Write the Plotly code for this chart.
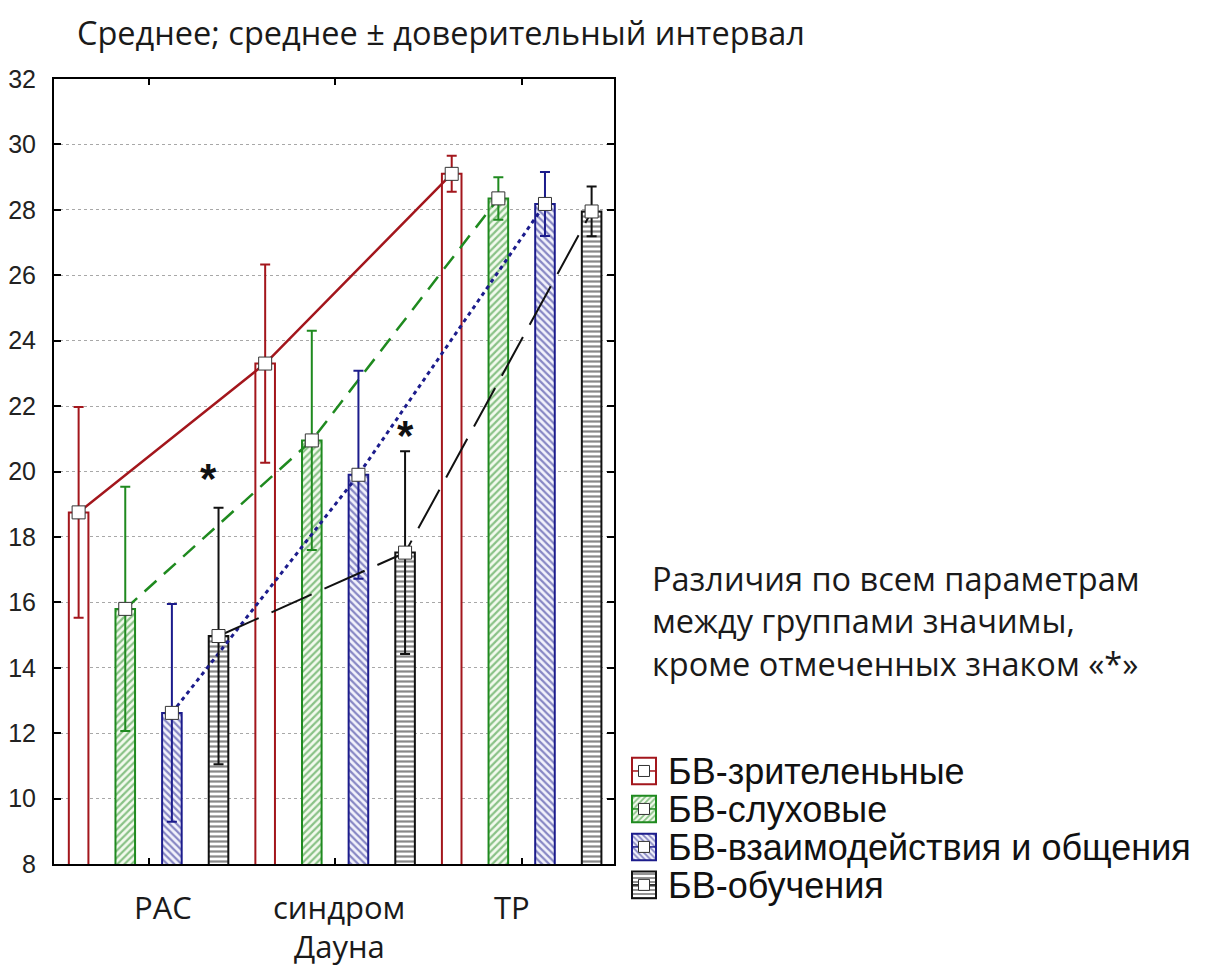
import plotly.graph_objects as go

# Groups and series
categories = ["РАС", "синдром<br>Дауна", "ТР"]
series_names = ["БВ-зрителеньные", "БВ-слуховые", "БВ-взаимодействия и общения", "БВ-обучения"]

# Means and confidence half-widths per group (РАС, синдром Дауна, ТР)
visual_mean = [18.75, 23.30, 29.10]
visual_ci = [3.22, 3.03, 0.55]
auditory_mean = [15.80, 20.95, 28.35]
auditory_ci = [3.73, 3.35, 0.65]
social_mean = [12.62, 19.90, 28.18]
social_ci = [3.33, 3.18, 0.98]
learning_mean = [14.97, 17.52, 27.95]
learning_ci = [3.92, 3.10, 0.76]

y_ticks = list(range(8, 33, 2))
note_lines = ["Различия по всем параметрам", "между группами значимы,", "кроме отмеченных знаком «*»"]

W, H = 1221, 968
RED, GREEN, BLUE, BLACK = "#a3161c", "#1f8a1f", "#1c1c8c", "#111111"

styles = [
    dict(color=RED, bg="white", shape="", dash="solid", lw=2.5),
    dict(color=GREEN, bg="#f3faee", shape="/", dash="16px,10px", lw=2.5),
    dict(color=BLUE, bg="#f2f2fb", shape="\\", dash="4px,4px", lw=3),
    dict(color=BLACK, bg="white", shape="-", dash="44px,14px", lw=2),
]
means = [visual_mean, auditory_mean, social_mean, learning_mean]
cis = [visual_ci, auditory_ci, social_ci, learning_ci]
offsets = [-0.375, -0.125, 0.125, 0.375]
bar_w = 0.105

fig = go.Figure()

# bars
for s, st in enumerate(styles):
    xs = [i + offsets[s] for i in range(len(categories))]
    fig.add_trace(go.Bar(
        x=xs, y=means[s], width=bar_w,
        marker=dict(
            color=st["bg"],
            line=dict(color=st["color"], width=2),
            pattern=dict(shape=st["shape"], fgcolor=st["color"], bgcolor=st["bg"],
                         size=5, solidity=0.45),
        ),
        showlegend=False, hoverinfo="skip",
    ))

# connecting lines, CI whiskers and mean markers
for s, st in enumerate(styles):
    xs = [i + offsets[s] for i in range(len(categories))]
    fig.add_trace(go.Scatter(
        x=xs, y=means[s], mode="lines+markers",
        line=dict(color=st["color"], width=st["lw"], dash=st["dash"]),
        marker=dict(symbol="square", size=13, color="white", line=dict(color="#333333", width=1)),
        error_y=dict(type="data", array=cis[s], color=st["color"], thickness=2, width=5),
        showlegend=False, name=series_names[s],
    ))

# legend swatches on their own small axes
for s, st in enumerate(styles):
    fig.add_trace(go.Bar(
        x=[0.5], y=[0.7], base=[-s - 0.35], width=0.75,
        marker=dict(
            color=st["bg"],
            line=dict(color=st["color"], width=2),
            pattern=dict(shape=st["shape"], fgcolor=st["color"], bgcolor=st["bg"],
                         size=4, solidity=0.45),
        ),
        xaxis="x2", yaxis="y2", showlegend=False, hoverinfo="skip",
    ))
    fig.add_trace(go.Scatter(
        x=[0.5], y=[-s], mode="markers",
        marker=dict(symbol="square", size=11, color="white", line=dict(color="#333333", width=1)),
        error_x=dict(type="data", array=[0.37], color=st["color"], thickness=1.5, width=0),
        xaxis="x2", yaxis="y2", showlegend=False, hoverinfo="skip",
    ))

def px(x):
    return x / W

def py(y):
    return 1 - y / H

annotations = []
text_font = dict(family="Open Sans", size=31, color="#1a1a1a")

annotations.append(dict(text="Среднее; среднее ± доверительный интервал", xref="paper", yref="paper",
                        x=px(75), y=py(33), xanchor="left", yanchor="middle",
                        showarrow=False, font=dict(family="Open Sans", size=32.5, color="#1a1a1a")))

# group labels under the axis, one line each
label_centers = [163, 339, 512]
for name, cx in zip(categories, label_centers):
    for k, part in enumerate(name.split("<br>")):
        annotations.append(dict(text=part, xref="paper", yref="paper", x=px(cx), y=py(907 + 39 * k),
                                xanchor="center", yanchor="middle", showarrow=False,
                                borderpad=0, font=text_font))

annotations.append(dict(text="<br>".join(note_lines), xref="paper", yref="paper",
                        x=px(650), y=py(621), xanchor="left", yanchor="middle", align="left",
                        showarrow=False, font=dict(family="Open Sans", size=32.5, color="#1a1a1a")))

for s, name in enumerate(series_names):
    annotations.append(dict(text=name, xref="paper", yref="paper", x=px(666), y=py(771 + 38 * s),
                            xanchor="left", yanchor="middle", showarrow=False,
                            font=dict(family="Liberation Sans", size=36, color="#111111")))

# significance marks above the learning bars
for gx, gy in [(0.32, 19.8), (1.375, 21.1)]:
    annotations.append(dict(text="<b>*</b>", xref="x", yref="y", x=gx, y=gy,
                            xanchor="center", yanchor="middle", showarrow=False,
                            font=dict(family="Liberation Sans", size=42, color="#111111")))

fig.update_layout(
    width=W, height=H,
    margin=dict(l=0, r=0, t=0, b=0, autoexpand=False),
    paper_bgcolor="white", plot_bgcolor="white",
    barmode="overlay", showlegend=False,
    annotations=annotations,
    xaxis=dict(
        domain=[px(54), px(614)], range=[-0.507, 2.495], automargin=False,
        tickvals=[0, 1, 2], showticklabels=False,
        ticks="inside", ticklen=6, tickwidth=2, tickcolor="black",
        showline=True, linecolor="black", linewidth=2, mirror="ticks",
        showgrid=False, zeroline=False,
    ),
    yaxis=dict(
        domain=[py(864), py(79)], range=[8, 32], automargin=False,
        tickvals=y_ticks, ticktext=[str(v) for v in y_ticks],
        ticks="inside", ticklen=7, tickwidth=2, tickcolor="black",
        showline=True, linecolor="black", linewidth=2, mirror="ticks",
        showgrid=True, gridcolor="#a8a8a8", gridwidth=1, griddash="dot",
        zeroline=False, ticklabelstandoff=11,
        tickfont=dict(family="Liberation Sans", size=25, color="#222222"),
    ),
    xaxis2=dict(domain=[px(628), px(660)], range=[0, 1], visible=False, anchor="y2", automargin=False),
    yaxis2=dict(domain=[py(905), py(752)], range=[-3.53, 0.5], visible=False, anchor="x2", automargin=False),
)

fig.write_html("out.html")
